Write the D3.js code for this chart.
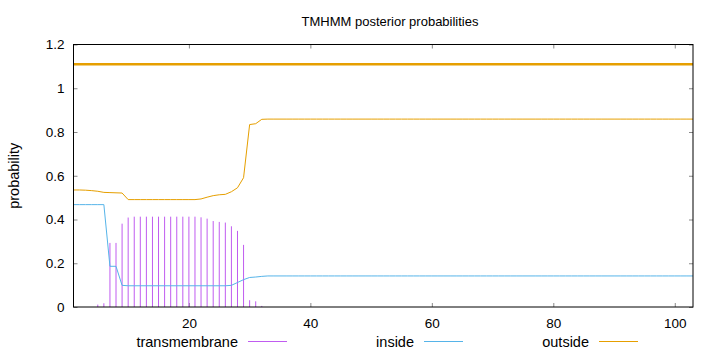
<!DOCTYPE html>
<html>
<head>
<meta charset="utf-8">
<script src="https://cdn.jsdelivr.net/npm/d3@7"></script>
<style>
  body { margin: 0; background: #fff; }
  svg { display: block; font-family: "Liberation Sans", Arial, sans-serif; }
</style>
</head>
<body>
<div id="chart-area"></div>
<script>
// sequence positions 1..103
var positions = d3.range(1, 104);

// posterior probability of transmembrane (drawn as impulses)
var transmembrane = [
    0, 0, 0, 0, 0.011, 0.017, 0.293, 0.293, 0.381, 0.409,
    0.413, 0.413, 0.413, 0.413, 0.413, 0.413, 0.413, 0.413, 0.413, 0.413,
    0.413, 0.410, 0.404, 0.393, 0.389, 0.386, 0.369, 0.348, 0.284, 0.031,
    0.026, 0.005, 0, 0, 0, 0, 0, 0, 0, 0,
    0, 0, 0, 0, 0, 0, 0, 0, 0, 0,
    0, 0, 0, 0, 0, 0, 0, 0, 0, 0,
    0, 0, 0, 0, 0, 0, 0, 0, 0, 0,
    0, 0, 0, 0, 0, 0, 0, 0, 0, 0,
    0, 0, 0, 0, 0, 0, 0, 0, 0, 0,
    0, 0, 0, 0, 0, 0, 0, 0, 0, 0,
    0, 0, 0
];

var inside = [
    0.468, 0.468, 0.468, 0.468, 0.468, 0.468, 0.186, 0.186, 0.099, 0.097,
    0.097, 0.097, 0.097, 0.097, 0.097, 0.097, 0.097, 0.097, 0.097, 0.097,
    0.097, 0.097, 0.097, 0.097, 0.097, 0.097, 0.099, 0.112, 0.125, 0.135,
    0.137, 0.140, 0.142, 0.142, 0.142, 0.142, 0.142, 0.142, 0.142, 0.142,
    0.142, 0.142, 0.142, 0.142, 0.142, 0.142, 0.142, 0.142, 0.142, 0.142,
    0.142, 0.142, 0.142, 0.142, 0.142, 0.142, 0.142, 0.142, 0.142, 0.142,
    0.142, 0.142, 0.142, 0.142, 0.142, 0.142, 0.142, 0.142, 0.142, 0.142,
    0.142, 0.142, 0.142, 0.142, 0.142, 0.142, 0.142, 0.142, 0.142, 0.142,
    0.142, 0.142, 0.142, 0.142, 0.142, 0.142, 0.142, 0.142, 0.142, 0.142,
    0.142, 0.142, 0.142, 0.142, 0.142, 0.142, 0.142, 0.142, 0.142, 0.142,
    0.142, 0.142, 0.142
];

var outside = [
    0.535, 0.535, 0.534, 0.532, 0.529, 0.524, 0.523, 0.522, 0.521, 0.491,
    0.491, 0.491, 0.491, 0.491, 0.491, 0.491, 0.491, 0.491, 0.491, 0.491,
    0.491, 0.494, 0.502, 0.509, 0.513, 0.515, 0.527, 0.545, 0.591, 0.834,
    0.838, 0.858, 0.859, 0.859, 0.859, 0.859, 0.859, 0.859, 0.859, 0.859,
    0.859, 0.859, 0.859, 0.859, 0.859, 0.859, 0.859, 0.859, 0.859, 0.859,
    0.859, 0.859, 0.859, 0.859, 0.859, 0.859, 0.859, 0.859, 0.859, 0.859,
    0.859, 0.859, 0.859, 0.859, 0.859, 0.859, 0.859, 0.859, 0.859, 0.859,
    0.859, 0.859, 0.859, 0.859, 0.859, 0.859, 0.859, 0.859, 0.859, 0.859,
    0.859, 0.859, 0.859, 0.859, 0.859, 0.859, 0.859, 0.859, 0.859, 0.859,
    0.859, 0.859, 0.859, 0.859, 0.859, 0.859, 0.859, 0.859, 0.859, 0.859,
    0.859, 0.859, 0.859
];

// predicted topology bar (whole sequence outside)
var topology = [{start: 1, end: 103, level: 1.11}];

var xTicks = [20, 40, 60, 80, 100];
var yTicks = [0, 0.2, 0.4, 0.6, 0.8, 1, 1.2];
var seriesNames = ["transmembrane", "inside", "outside"];
var seriesColors = ["#c05cf0", "#56b4e9", "#e69f00"];

var W = 720, H = 352;
var mLeft = 73.5, mRight = 693, mTop = 44.5, mBottom = 307;

var svg = d3.select("#chart-area").append("svg")
    .attr("width", W)
    .attr("height", H);

var x = d3.scaleLinear()
    .domain([1, 103])
    .range([mLeft, mRight]);

var y = d3.scaleLinear()
    .domain([0, 1.2])
    .range([mBottom, mTop]);

// title
svg.append("text")
    .attr("x", 390)
    .attr("y", 26)
    .attr("text-anchor", "middle")
    .attr("font-size", 13)
    .text("TMHMM posterior probabilities");

// y label
svg.append("text")
    .attr("transform", "translate(19," + ((mTop + mBottom) / 2) + ") rotate(-90)")
    .attr("text-anchor", "middle")
    .attr("font-size", 14.5)
    .text("probability");

// axes, ticks pointing inward like gnuplot
var yAxis = svg.append("g")
    .attr("transform", "translate(" + mLeft + ",0)")
    .call(d3.axisLeft(y).tickValues(yTicks).tickSize(-4).tickPadding(9)
        .tickFormat((d) => { return String(+d.toFixed(1)); }));

var yAxisR = svg.append("g")
    .attr("transform", "translate(" + mRight + ",0)")
    .call(d3.axisRight(y).tickValues(yTicks).tickSize(-4).tickFormat(""));

var xAxis = svg.append("g")
    .attr("transform", "translate(0," + mBottom + ")")
    .call(d3.axisBottom(x).tickValues(xTicks).tickSize(-4).tickPadding(11));

var xAxisT = svg.append("g")
    .attr("transform", "translate(0," + mTop + ")")
    .call(d3.axisTop(x).tickValues(xTicks).tickSize(-4).tickFormat(""));

[yAxis, yAxisR, xAxis, xAxisT].forEach((a) => {
    a.select(".domain").remove();
    a.selectAll(".tick line").attr("stroke", "#888");
    a.selectAll("text")
        .attr("font-size", 13.5)
        .attr("font-family", "Liberation Sans, Arial, sans-serif")
        .attr("fill", "#000");
});

// transmembrane impulses
var tmData = positions.map((p, i) => { return {pos: p, v: transmembrane[i]}; })
    .filter((d) => { return d.v > 0; });

svg.selectAll("line.tm")
    .data(tmData)
    .enter()
    .append("line")
        .attr("class", "tm")
        .attr("x1", (d) => { return x(d.pos); })
        .attr("x2", (d) => { return x(d.pos); })
        .attr("y1", y(0))
        .attr("y2", (d) => { return y(d.v); })
        .attr("stroke", seriesColors[0])
        .attr("stroke-width", 1);

var line = d3.line()
    .x((d) => { return x(d.pos); })
    .y((d) => { return y(d.v); });

var insideData = positions.map((p, i) => { return {pos: p, v: inside[i]}; });
var outsideData = positions.map((p, i) => { return {pos: p, v: outside[i]}; });

svg.append("path")
    .datum(insideData)
    .attr("d", line)
    .attr("fill", "none")
    .attr("stroke", seriesColors[1])
    .attr("stroke-width", 1);

svg.append("path")
    .datum(outsideData)
    .attr("d", line)
    .attr("fill", "none")
    .attr("stroke", seriesColors[2])
    .attr("stroke-width", 1);

// topology bar
svg.selectAll("line.topo")
    .data(topology)
    .enter()
    .append("line")
        .attr("class", "topo")
        .attr("x1", (d) => { return x(d.start); })
        .attr("x2", (d) => { return x(d.end); })
        .attr("y1", (d) => { return y(d.level); })
        .attr("y2", (d) => { return y(d.level); })
        .attr("stroke", seriesColors[2])
        .attr("stroke-width", 2.5);

// frame
svg.append("rect")
    .attr("x", mLeft)
    .attr("y", mTop)
    .attr("width", mRight - mLeft)
    .attr("height", mBottom - mTop)
    .attr("fill", "none")
    .attr("stroke", "#000")
    .attr("stroke-width", 1);

// legend
var legendTextEnd = [238, 414, 589];
var legend = svg.selectAll("g.legend")
    .data(seriesNames)
    .enter()
    .append("g")
        .attr("class", "legend");

legend.append("text")
    .attr("x", (d, i) => { return legendTextEnd[i]; })
    .attr("y", 347)
    .attr("text-anchor", "end")
    .attr("font-size", 14.5)
    .text((d) => { return d; });

legend.append("line")
    .attr("x1", (d, i) => { return legendTextEnd[i] + 10; })
    .attr("x2", (d, i) => { return legendTextEnd[i] + 49; })
    .attr("y1", 341.5)
    .attr("y2", 341.5)
    .attr("stroke", (d, i) => { return seriesColors[i]; })
    .attr("stroke-width", 1);
</script>
</body>
</html>
